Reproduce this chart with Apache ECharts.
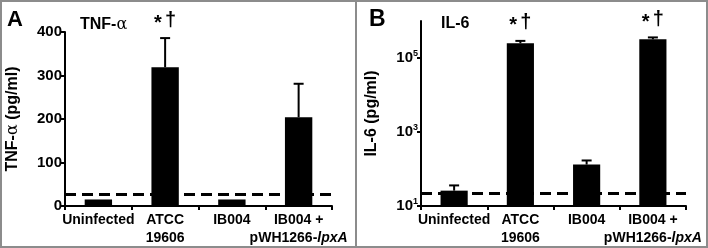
<!DOCTYPE html>
<html>
<head>
<meta charset="utf-8">
<script src="https://cdn.jsdelivr.net/npm/echarts@6/dist/echarts.min.js"></script>
<style>
  html, body { margin: 0; padding: 0; background: #fff; }
  #chart { width: 708px; height: 248px; }
</style>
</head>
<body>
<div id="chart"></div>
<script>
// categories shared by both panels
const categories = ['Uninfected', 'ATCC\n19606', 'IB004', 'IB004 +\npWH1266-lpxA']

// panel A: TNF-alpha (pg/ml)
const tnfMean = [15, 319, 15, 204]
const tnfErr = [0, 67, 0, 77]
const tnfSig = ['', '*†', '', '']
const tnfLimit = 26
const tnfTicks = [0, 100, 200, 300, 400]

// panel B: IL-6 (pg/ml), log scale
const il6Mean = [26, 250000, 132, 320000]
const il6Err = [10, 40000, 38, 40000]
const il6Sig = ['', '*†', '', '*†']
const il6Limit = 22
const il6Ticks = [10, 1000, 100000]

const FONT = '"Liberation Sans", Arial, sans-serif'

const chart = echarts.init(document.getElementById('chart'))

function catFormatter(v) {
  return v.split('\n').map(line => {
    if (line.indexOf('lpxA') >= 0) {
      return '{b|' + line.replace('lpxA', '') + '}{i|lpxA}'
    }
    return '{b|' + line + '}'
  }).join('\n')
}

const catRich = {
  b: { fontFamily: FONT, fontWeight: 'bold', fontSize: 14, color: '#000', lineHeight: 18 },
  i: { fontFamily: FONT, fontWeight: 'bold', fontStyle: 'italic', fontSize: 14, color: '#000', lineHeight: 18 }
}

function errorSeries(idx, mean, err, sig) {
  return {
    type: 'custom',
    xAxisIndex: idx,
    yAxisIndex: idx,
    silent: true,
    z: 5,
    data: mean.map((m, i) => [i, m, m + err[i]]),
    renderItem(params, api) {
      const base = api.coord([api.value(0), api.value(1)])
      const top = api.coord([api.value(0), api.value(2)])
      const children = []
      if (api.value(2) > api.value(1)) {
        children.push({
          type: 'line',
          shape: { x1: base[0], y1: base[1], x2: top[0], y2: top[1] },
          style: { stroke: '#000', lineWidth: 2 }
        })
        children.push({
          type: 'line',
          shape: { x1: top[0] - 5, y1: top[1], x2: top[0] + 5, y2: top[1] },
          style: { stroke: '#000', lineWidth: 2 }
        })
      }
      // significance marks above the error bar
      const s = sig[params.dataIndex]
      if (s) {
        children.push({
          type: 'text',
          x: top[0],
          y: top[1] - 5,
          style: {
            text: '{s|*} {d|†}',
            align: 'center',
            verticalAlign: 'bottom',
            rich: {
              s: { fontFamily: FONT, fontWeight: 'bold', fontSize: 20, color: '#000', padding: [6, 0, 0, 0] },
              d: { fontFamily: FONT, fontWeight: 'bold', fontSize: 20, color: '#000' }
            }
          }
        })
      }
      return { type: 'group', children }
    }
  }
}

function limitLine(value) {
  return {
    silent: true,
    symbol: 'none',
    label: { show: false },
    lineStyle: { color: '#000', type: [11, 6], width: 3 },
    data: [{ yAxis: value }]
  }
}

const axisCommon = {
  axisLine: { show: true, lineStyle: { color: '#000', width: 2 } },
  axisTick: { show: true, length: 4, lineStyle: { color: '#000', width: 2 } },
  splitLine: { show: false }
}

chart.setOption({
  animation: false,
  backgroundColor: '#fff',
  title: [
    { text: 'A', left: 2, top: 4, textStyle: { fontFamily: FONT, fontWeight: 'bold', fontSize: 22, color: '#000' } },
    {
      text: '{b|TNF-}{a|α}', left: 75, top: 12,
      textStyle: {
        rich: {
          b: { fontFamily: FONT, fontWeight: 'bold', fontSize: 16, color: '#000' },
          a: { fontFamily: '"DejaVu Serif", serif', fontWeight: 'normal', fontSize: 16, color: '#000' }
        }
      }
    },
    { text: 'B', left: 364, top: 3, textStyle: { fontFamily: FONT, fontWeight: 'bold', fontSize: 23, color: '#000' } },
    { text: 'IL-6', left: 436, top: 11, textStyle: { fontFamily: FONT, fontWeight: 'bold', fontSize: 16, color: '#000' } }
  ],
  graphic: [
    { type: 'rect', shape: { x: 1, y: 1, width: 706, height: 246 }, style: { fill: 'none', stroke: '#8c8c8c', lineWidth: 2 }, silent: true },
    { type: 'line', shape: { x1: 356, y1: 0, x2: 356, y2: 248 }, style: { stroke: '#8c8c8c', lineWidth: 2 }, silent: true }
  ],
  grid: [
    { left: 65, top: 32, width: 267, height: 174 },
    { left: 421, top: 21, width: 265, height: 185 }
  ],
  xAxis: [0, 1].map(i => Object.assign({}, axisCommon, {
    type: 'category',
    gridIndex: i,
    data: categories,
    axisTick: { show: true, length: 4, alignWithLabel: false, lineStyle: { color: '#000', width: 2 } },
    axisLabel: { interval: 0, margin: 5, formatter: catFormatter, rich: catRich }
  })),
  yAxis: [
    Object.assign({}, axisCommon, {
      type: 'value',
      gridIndex: 0,
      min: tnfTicks[0],
      max: tnfTicks[tnfTicks.length - 1],
      interval: 100,
      name: '{b|TNF-}{a|α}{b| (pg/ml)}',
      nameLocation: 'middle',
      nameGap: 44,
      nameTextStyle: {
        rich: {
          b: { fontFamily: FONT, fontWeight: 'bold', fontSize: 16, color: '#000' },
          a: { fontFamily: '"DejaVu Serif", serif', fontWeight: 'normal', fontSize: 16, color: '#000' }
        }
      },
      axisLabel: { margin: 3, fontFamily: FONT, fontWeight: 'bold', fontSize: 15, color: '#000' }
    }),
    Object.assign({}, axisCommon, {
      type: 'log',
      logBase: 10,
      gridIndex: 1,
      min: il6Ticks[0],
      max: 1000000,
      interval: 2,
      name: 'IL-6 (pg/ml)',
      nameLocation: 'middle',
      nameGap: 41,
      nameTextStyle: { fontFamily: FONT, fontWeight: 'bold', fontSize: 16, color: '#000' },
      axisLabel: {
        margin: 3,
        showMaxLabel: false,
        formatter(v) {
          if (il6Ticks.indexOf(Math.round(v)) < 0) return ''
          return '{b|10}{s|' + Math.round(Math.log10(v)) + '}'
        },
        rich: {
          b: { fontFamily: FONT, fontWeight: 'bold', fontSize: 15, color: '#000' },
          s: { fontFamily: FONT, fontWeight: 'bold', fontSize: 9, color: '#000', padding: [0, 0, 8, 0] }
        }
      }
    })
  ],
  series: [
    {
      type: 'bar',
      xAxisIndex: 0,
      yAxisIndex: 0,
      data: tnfMean,
      barWidth: '41%',
      itemStyle: { color: '#000' },
      markLine: limitLine(tnfLimit),
      z: 2
    },
    errorSeries(0, tnfMean, tnfErr, tnfSig),
    {
      type: 'bar',
      xAxisIndex: 1,
      yAxisIndex: 1,
      data: il6Mean,
      barWidth: '41%',
      itemStyle: { color: '#000' },
      markLine: limitLine(il6Limit),
      z: 2
    },
    errorSeries(1, il6Mean, il6Err, il6Sig)
  ]
})
</script>
</body>
</html>
